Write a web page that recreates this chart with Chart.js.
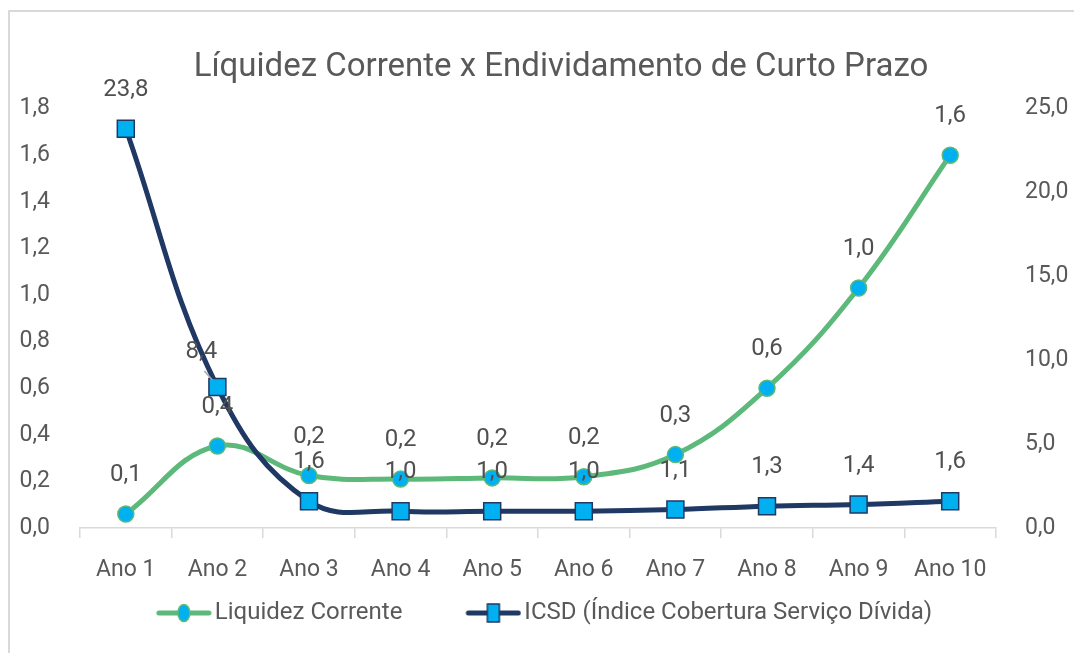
<!DOCTYPE html>
<html>
<head>
<meta charset="utf-8">
<script src="https://cdn.jsdelivr.net/npm/chart.js@4.4.1/dist/chart.umd.min.js"></script>
<style>
  html, body { margin: 0; padding: 0; background: #ffffff; overflow: hidden; }
  #frame { position: absolute; left: 8px; top: 10px; width: 2000px; height: 2000px;
           border-top: 2px solid #d9d9d9; border-left: 2px solid #d9d9d9; }
  #wrap { position: absolute; left: 0; top: 0; width: 1108px; height: 653px; }
</style>
</head>
<body>
<div id="frame"></div>
<div id="wrap"><canvas id="c" width="1108" height="653"></canvas></div>
<script>
const categories = ['Ano 1', 'Ano 2', 'Ano 3', 'Ano 4', 'Ano 5', 'Ano 6', 'Ano 7', 'Ano 8', 'Ano 9', 'Ano 10'];
const liquidezCorrente = [0.06, 0.352, 0.225, 0.21, 0.215, 0.22, 0.315, 0.6, 1.03, 1.6];
const icsd = [23.8, 8.4, 1.6, 1.0, 1.0, 1.0, 1.1, 1.3, 1.4, 1.6];
const seriesNames = ['Liquidez Corrente', 'ICSD (Índice Cobertura Serviço Dívida)'];
const titleText = 'Líquidez Corrente x Endividamento de Curto Prazo';

const GREEN = '#5cb97a';
const NAVY = '#1f3864';
const CYAN = '#00b0f0';
const TEXT = '#595959';
const FONT = 'Roboto';
const LEG_BOX = 93;

function fmt(v) { return v.toFixed(1).replace('.', ','); }

function legendImage(kind) {
  const W = LEG_BOX + 18;
  const c = document.createElement('canvas');
  c.width = W; c.height = 24;
  const g = c.getContext('2d');
  const x0 = W - 56;
  g.lineCap = 'round';
  g.lineWidth = 5;
  g.strokeStyle = kind === 0 ? GREEN : NAVY;
  g.beginPath(); g.moveTo(x0 + 3, 12); g.lineTo(x0 + 53, 12); g.stroke();
  g.fillStyle = CYAN;
  g.lineWidth = 1.5;
  if (kind === 0) {
    g.beginPath(); g.ellipse(x0 + 28, 12, 6, 8.5, 0, 0, Math.PI * 2); g.fill();
    g.strokeStyle = GREEN; g.stroke();
  } else {
    g.fillRect(x0 + 22, 3, 12, 18);
    g.strokeStyle = NAVY; g.strokeRect(x0 + 22, 3, 12, 18);
  }
  return c;
}

const legendShift = {
  id: 'legendShift',
  afterLayout(chart) {
    if (chart.legend) { chart.legend.left -= 17; chart.legend.right -= 17; }
  }
};

const valueLabels = {
  id: 'valueLabels',
  afterDatasetsDraw(chart) {
    const ctx = chart.ctx;
    ctx.save();
    ctx.font = '24px ' + FONT;
    ctx.fillStyle = '#505050';
    ctx.textAlign = 'center';
    ctx.textBaseline = 'middle';
    chart.data.datasets.forEach((ds, i) => {
      const meta = chart.getDatasetMeta(i);
      meta.data.forEach((pt, j) => {
        const off = (ds.labelOffsets && ds.labelOffsets[j]) || [0, -39];
        const lx = pt.x + off[0], ly = pt.y + off[1];
        if (off[2]) {
          ctx.save();
          ctx.strokeStyle = '#a6a6a6';
          ctx.lineWidth = 1.5;
          ctx.beginPath();
          ctx.moveTo(pt.x - 13, pt.y - 16);
          ctx.lineTo(pt.x - 5, pt.y - 7);
          ctx.stroke();
          ctx.restore();
        }
        ctx.fillText(fmt(ds.data[j]), lx, ly);
      });
    });
    ctx.restore();
  }
};

new Chart(document.getElementById('c'), {
  type: 'line',
  data: {
    labels: categories,
    datasets: [
      {
        label: seriesNames[0],
        data: liquidezCorrente,
        yAxisID: 'y',
        borderColor: GREEN,
        borderWidth: 5,
        tension: 0.4,
        pointStyle: 'circle',
        pointRadius: 8,
        pointHoverRadius: 8,
        pointBackgroundColor: CYAN,
        pointBorderColor: GREEN,
        pointBorderWidth: 1.5,
        order: 2
      },
      {
        label: seriesNames[1],
        data: icsd,
        yAxisID: 'y2',
        borderColor: NAVY,
        borderWidth: 5,
        tension: 0.4,
        pointStyle: 'rect',
        pointRadius: 12,
        pointHoverRadius: 12,
        pointBackgroundColor: CYAN,
        pointBorderColor: NAVY,
        pointBorderWidth: 1.5,
        labelOffsets: { 1: [-16, -35, true] },
        order: 1
      }
    ]
  },
  options: {
    responsive: false,
    animation: false,
    events: [],
    layout: { padding: { left: 14, right: 0, top: 0, bottom: 18 } },
    plugins: {
      tooltip: { enabled: false },
      title: {
        display: true,
        text: titleText,
        color: TEXT,
        font: { family: FONT, size: 33, weight: 'normal' },
        padding: { top: 48, bottom: 21 }
      },
      legend: {
        display: true,
        position: 'bottom',
        fullSize: false,
        labels: {
          usePointStyle: true,
          pointStyleWidth: LEG_BOX,
          padding: 17,
          color: TEXT,
          font: { family: FONT, size: 24 },
          generateLabels() {
            return seriesNames.map((n, i) => ({
              text: n,
              pointStyle: legendImage(i),
              fillStyle: CYAN,
              strokeStyle: i === 0 ? GREEN : NAVY,
              lineWidth: 0,
              hidden: false,
              fontColor: TEXT,
              datasetIndex: i
            }));
          }
        }
      }
    },
    scales: {
      x: {
        offset: true,
        grid: { offset: true, drawOnChartArea: false, color: '#d9d9d9', lineWidth: 1.5, tickLength: 10 },
        border: { color: '#d9d9d9', width: 1.5 },
        ticks: { color: TEXT, font: { family: FONT, size: 23 }, padding: 18, maxRotation: 0, autoSkip: false },
        afterFit(s) { s.height = 56; }
      },
      y: {
        position: 'left',
        min: 0, max: 1.8,
        grid: { display: false, drawTicks: false },
        border: { display: false },
        ticks: { stepSize: 0.2, color: TEXT, font: { family: FONT, size: 23 }, padding: 30, callback: v => fmt(v) },
        afterFit(s) { s.width = 66; }
      },
      y2: {
        position: 'right',
        min: 0, max: 25,
        grid: { display: false, drawTicks: false },
        border: { display: false },
        ticks: { stepSize: 5, color: TEXT, font: { family: FONT, size: 23 }, padding: 29, callback: v => fmt(v) },
        afterFit(s) { s.width = 112; }
      }
    }
  },
  plugins: [legendShift, valueLabels]
});
</script>
</body>
</html>
